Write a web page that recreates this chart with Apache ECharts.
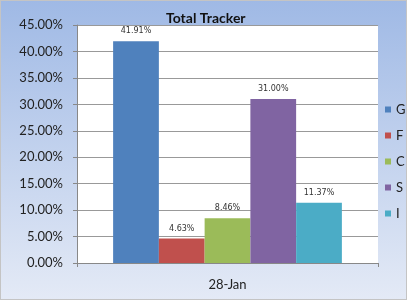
<!DOCTYPE html>
<html><head><meta charset="utf-8">
<script src="https://cdn.jsdelivr.net/npm/echarts@6/dist/echarts.min.js"></script>
<style>html,body{margin:0;padding:0;}#c{width:407px;height:300px;}</style>
</head><body><div id="c"></div>
<script>
var categories = ['28-Jan'];
var seriesNames = ['G', 'F', 'C', 'S', 'I'];
var seriesValues = [[41.91], [4.63], [8.46], [31.00], [11.37]];
var seriesColors = ['#4f81bd', '#c0504d', '#9bbb59', '#8064a2', '#4bacc6'];
var yTicks = [0, 5, 10, 15, 20, 25, 30, 35, 40, 45];

var chart = echarts.init(document.getElementById('c'), null, {renderer: 'canvas'});
chart.setOption({
  animation: false,
  backgroundColor: {type: 'linear', x: 0, y: 0, x2: 0, y2: 1,
    colorStops: [{offset: 0, color: '#9fb9e5'}, {offset: 1, color: '#e4eaf6'}]},
  title: {text: 'Total Tracker', left: 161, top: 6,
    textStyle: {fontFamily: 'Lato', fontWeight: 'bold', fontSize: 14, color: '#111'}},
  legend: {orient: 'vertical', left: 380, top: 98, itemGap: 13, itemWidth: 6, itemHeight: 6,
    icon: 'rect', data: seriesNames,
    textStyle: {fontFamily: 'Lato', fontSize: 13, color: '#222'}},
  grid: {left: 77, right: 29, top: 25, bottom: 37, backgroundColor: '#fff', show: true, borderWidth: 0},
  xAxis: {type: 'category', data: categories,
    axisLine: {lineStyle: {color: '#888'}},
    axisTick: {show: true, length: 4, lineStyle: {color: '#888'}},
    axisLabel: {fontFamily: 'Lato', fontSize: 13, color: '#222', margin: 15}},
  yAxis: {type: 'value', min: yTicks[0], max: yTicks[yTicks.length - 1], interval: 5,
    axisLine: {show: true, lineStyle: {color: '#888'}},
    axisTick: {show: true, length: 4, lineStyle: {color: '#888'}},
    splitLine: {lineStyle: {color: '#999'}},
    axisLabel: {fontFamily: 'Lato', fontSize: 13, color: '#222', margin: 14,
      formatter: function (v) { return v.toFixed(2) + '%'; }}},
  series: seriesNames.map(function (n, i) {
    return {name: n, type: 'bar', data: seriesValues[i], barGap: '0%', barCategoryGap: '24%',
      itemStyle: {color: seriesColors[i]},
      label: {show: true, position: 'top', distance: 6, fontFamily: 'DejaVu Sans', fontSize: 8, color: '#333',
        formatter: function (p) { return p.value.toFixed(2) + '%'; }}};
  })
});
</script>
<div style="position:absolute;left:0;top:0;width:405px;height:298px;border:1px solid #c4c4c4;pointer-events:none;"></div>
</body></html>
